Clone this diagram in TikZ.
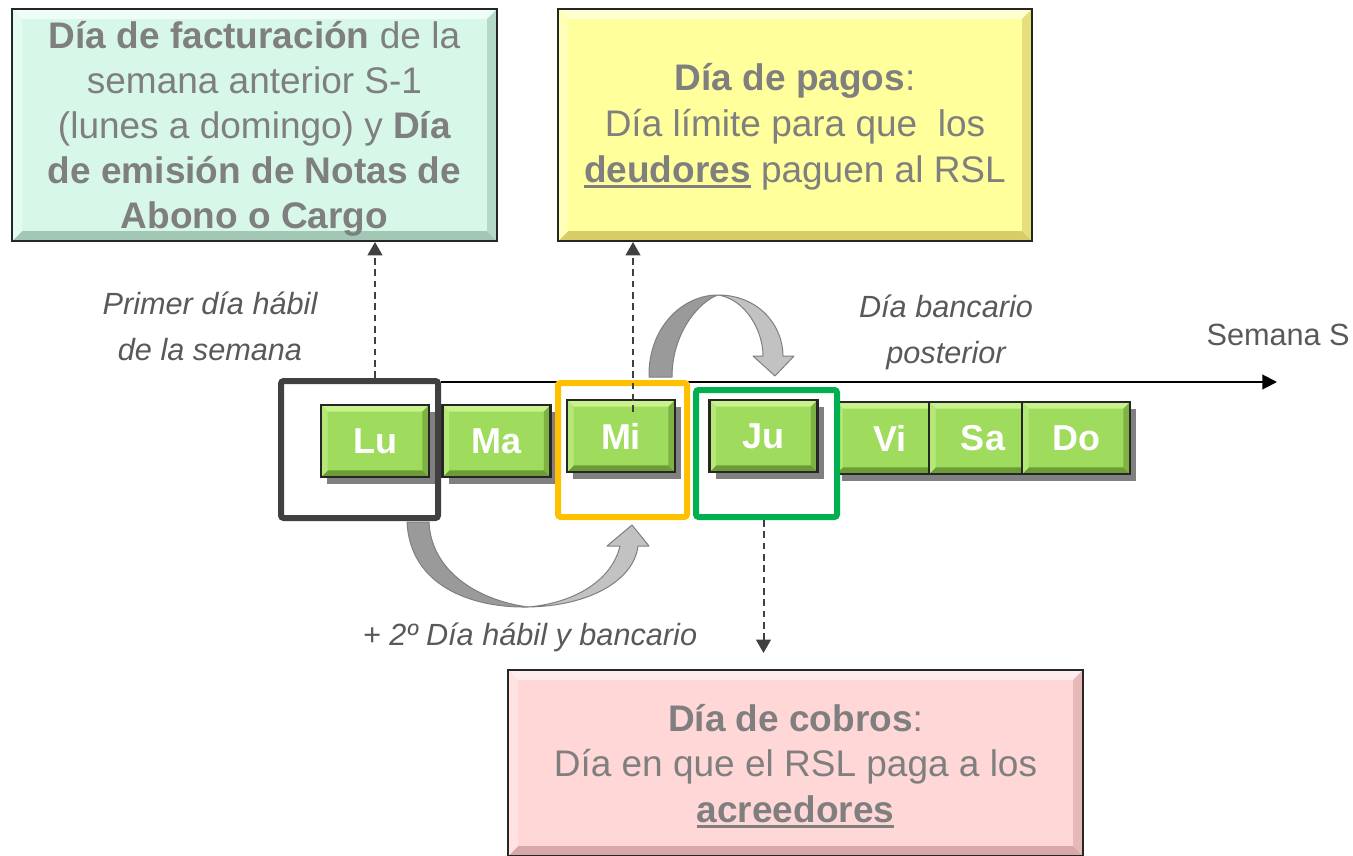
\documentclass[tikz,border=0pt]{standalone}
\usepackage{fontspec}
\setmainfont{Liberation Sans}
\usetikzlibrary{arrows.meta,shadows,calc}
\definecolor{txtgray}{HTML}{7F7F7F}
\definecolor{lblgray}{HTML}{595959}
\definecolor{edgedark}{HTML}{262626}
\definecolor{arrowgray}{HTML}{404040}
\definecolor{mintbase}{HTML}{D7F8E8}
\definecolor{mintlight}{HTML}{EEFDF6}
\definecolor{mintdark}{HTML}{A2C8B5}
\definecolor{yelbase}{HTML}{FFFF9B}
\definecolor{yellight}{HTML}{FFFFD0}
\definecolor{yeldark}{HTML}{D8CC68}
\definecolor{pinkbase}{HTML}{FFD7D7}
\definecolor{pinklight}{HTML}{FFEDED}
\definecolor{pinkdark}{HTML}{D8A8A8}
\definecolor{daybase}{HTML}{9FDB5C}
\definecolor{daylight}{HTML}{C8F28E}
\definecolor{daydark}{HTML}{6C9C36}
\definecolor{shadowgray}{HTML}{808080}
\definecolor{blackedge}{HTML}{404040}
\definecolor{orangeedge}{HTML}{FFC000}
\definecolor{greenedge}{HTML}{00B050}
\definecolor{curvedark}{HTML}{9A9A9A}
\definecolor{curvelight}{HTML}{C2C2C2}
\definecolor{curveedge}{HTML}{7F7F7F}
\newcommand\myul[1]{\setbox0=\hbox{#1}\rlap{\rule[-4.5pt]{\wd0}{2.2pt}}\box0\relax}
\begin{document}
\begin{tikzpicture}[x=0.75pt,y=-0.75pt,
  bevel/.style args={#1/#2/#3/#4}{fill=#1,
    path picture={
      \coordinate (ppsw) at (path picture bounding box.south west);
      \coordinate (ppne) at (path picture bounding box.north east);
      \coordinate (ppnw) at (path picture bounding box.north west);
      \coordinate (ppse) at (path picture bounding box.south east);
      \fill[#2] (ppnw) -- (ppne) -- ([xshift=-#4,yshift=-#4]ppne) -- ([xshift=#4,yshift=-#4]ppnw) -- cycle;
      \fill[#3] (ppsw) -- (ppse) -- ([xshift=-#4,yshift=#4]ppse) -- ([xshift=#4,yshift=#4]ppsw) -- cycle;
      \fill[#3!65!#1] (ppse) -- (ppne) -- ([xshift=-#4,yshift=-#4]ppne) -- ([xshift=-#4,yshift=#4]ppse) -- cycle;
      \fill[#2!55!#1] (ppsw) -- (ppnw) -- ([xshift=#4,yshift=-#4]ppnw) -- ([xshift=#4,yshift=#4]ppsw) -- cycle;
    }},
  infobox/.style={draw=edgedark, line width=1.5pt, inner sep=0pt, rectangle},
  daybox/.style={draw=edgedark, line width=2pt, inner sep=0pt, rectangle,
    minimum width=81pt, minimum height=54pt,
    bevel=daybase/daylight/daydark/5pt,
    drop shadow={shadow xshift=4.5pt, shadow yshift=-5pt, fill=shadowgray, opacity=1},
    text=white, font=\fontsize{27}{30}\selectfont\bfseries},
  outline/.style={draw=#1, line width=4.5pt, rounded corners=2pt, inner sep=0pt, fill=none, rectangle},
  boxtext/.style={text=txtgray, align=center, inner sep=0pt, anchor=base},
  lbltext/.style={text=lblgray, align=center, inner sep=0pt, anchor=base,
    font=\fontsize{23}{34.5}\selectfont\itshape},
  dasharr/.style={draw=arrowgray, line width=1.5pt, dash pattern=on 5pt off 3.5pt,
    -{Triangle[length=10pt,width=11pt]}},
  curvebody/.style={draw=curveedge, line width=0.75pt, line join=round}
]
\useasboundingbox (0,0) rectangle (1353,856);
\clip (0,0) rectangle (1353,856);

% information boxes
\node[infobox, bevel=mintbase/mintlight/mintdark/7.5pt,
  minimum width=485*0.75pt, minimum height=232*0.75pt] (factbox) at (254.5,125) {};
\node[infobox, bevel=yelbase/yellight/yeldark/7.5pt,
  minimum width=474*0.75pt, minimum height=232*0.75pt] (pagosbox) at (795,125) {};
\node[infobox, bevel=pinkbase/pinklight/pinkdark/7.5pt,
  minimum width=575*0.75pt, minimum height=186*0.75pt] (cobrosbox) at (795.5,763) {};

% (base anchor of a multi-line node = baseline of its last line)
\node[boxtext, font=\fontsize{27.75}{33.75}\selectfont] (facttext) at (254.5,228)
  {\textbf{Día de facturación} de la\\semana anterior S-1\\(lunes a domingo) y \textbf{Día}\\\textbf{de emisión de Notas de}\\\textbf{Abono o Cargo}};
\node[boxtext, font=\fontsize{27.75}{34.5}\selectfont] (pagostext) at (795,182)
  {\textbf{Día de pagos}:\\Día límite para que~ los\\\myul{\textbf{deudores}} paguen al RSL};
\node[boxtext, font=\fontsize{27.75}{34}\selectfont] (cobrostext) at (795.5,822)
  {\textbf{Día de cobros}:\\Día en que el RSL paga a los\\\myul{\textbf{acreedores}}};

% timeline
\coordinate (tl0) at (441,382);
\coordinate (tl1) at (1277,382);
\draw[line width=1.5pt, -{Triangle[length=11pt,width=11pt]}] (tl0) -- (tl1);
\node[anchor=base east, inner sep=0pt, text=lblgray, font=\fontsize{23}{28}\selectfont] (semana) at (1350,345) {Semana S};

% days
\node[daybox] (lu) at (375,441) {Lu};
\node[daybox] (ma) at (496.5,441) {Ma};
\node[daybox] (mi) at (621,436) {Mi};
\node[daybox] (ju) at (763.5,436) {Ju};
\node[daybox] (vi) at (890,438) {Vi};
\node[daybox] (sa) at (983,438) {Sa};
\node[daybox] (do) at (1076,438) {Do};

% highlight frames
\node[outline=blackedge, minimum width=157*0.75pt, minimum height=137*0.75pt] (lubox) at (359.5,449.5) {};
\node[outline=orangeedge, minimum width=129*0.75pt, minimum height=134*0.75pt] (mibox) at (622.5,450) {};
\node[outline=greenedge, minimum width=141*0.75pt, minimum height=127*0.75pt] (jubox) at (766.5,453.5) {};

% dashed arrows
\draw[dasharr] (lubox.north -| lu.center) -- (factbox.south -| lu.center);
\coordinate (midash) at (633,412);
\draw[dasharr] (midash) -- (pagosbox.south -| midash);
\draw[dasharr, shorten >=12pt] (jubox.south -| ju.center) -- (cobrosbox.north -| ju.center);

% curved arrow Lu -> Mi (below)
\fill[curvedark, curvebody] (407,522) .. controls (410,585) and (470,608) .. (528,607)
   .. controls (476,600) and (431,570) .. (429,522) -- cycle;
\fill[curvelight, curvebody] (528,607) .. controls (590,606) and (634,580) .. (638,546)
   -- (649,546) -- (632,525) -- (607,546) -- (620,546)
   .. controls (612,580) and (575,603) .. (528,607) -- cycle;
% curved arrow Mi -> Ju (above)
\fill[curvedark, curvebody] (649,377) .. controls (648,328) and (682,295) .. (718,295)
   .. controls (700,301) and (672,332) .. (672,377) -- cycle;
\fill[curvelight, curvebody] (718,295) .. controls (758,295) and (783,325) .. (783,356)
   -- (794,356) -- (775,376) -- (753,356) -- (763,356)
   .. controls (763,330) and (745,299) .. (718,295) -- cycle;

% labels
\node[lbltext] (primer) at (210,360) {Primer día hábil\\de la semana};
\node[lbltext] (bancario) at (946,363) {Día bancario\\posterior};
\node[lbltext] (plus2) at (530,645) {+ 2º Día hábil y bancario};
\end{tikzpicture}
\end{document}
